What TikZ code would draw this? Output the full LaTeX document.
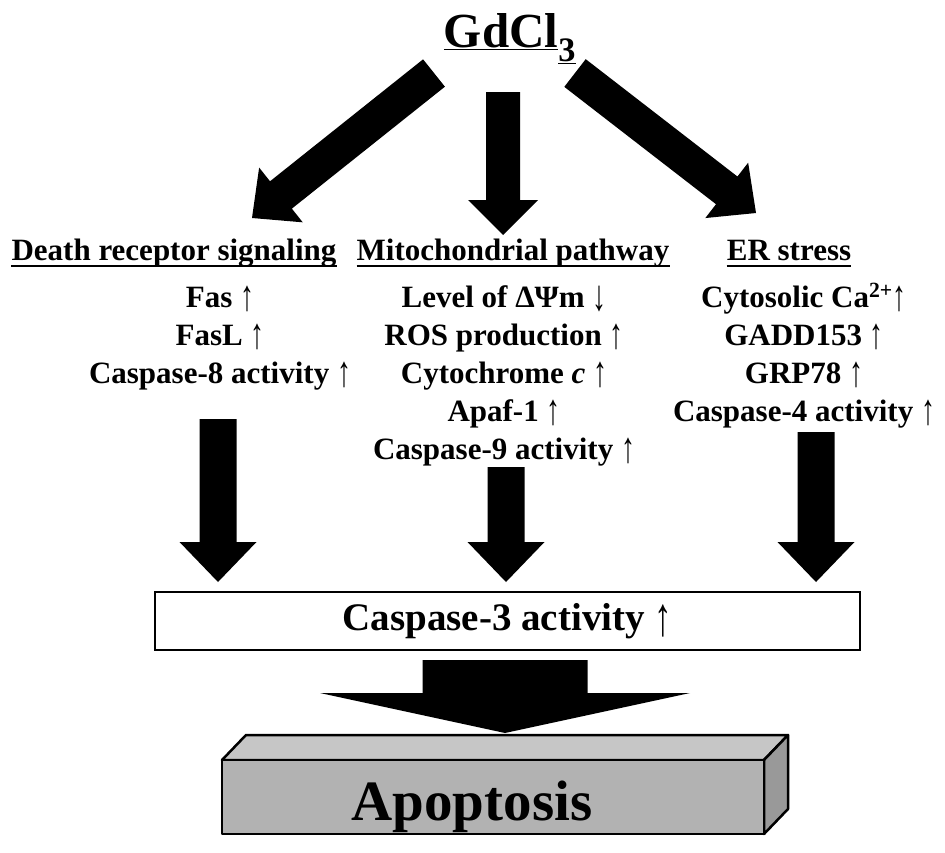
\documentclass[tikz,border=0pt]{standalone}
\usepackage{fontspec}
\setmainfont{Liberation Serif}
\usetikzlibrary{calc}
\newcommand{\upar}{\raisebox{-0.12em}{\scalebox{0.9}[1.4]{↑}}}
\newcommand{\dnar}{\raisebox{-0.12em}{\scalebox{0.9}[1.4]{↓}}}
\tikzset{
  txt/.style={font=\fontsize{31}{36}\selectfont\bfseries, inner sep=0pt, anchor=base},
  ul/.style={line width=2pt},
  fatfill/.style={fill=black},
  boxedge/.style={draw=black, line width=2.5pt, line join=round},
}
% #1 from, #2 to, #3 half shaft width, #4 half head width, #5 head length
\newcommand{\fatarrow}[5]{%
  \path ($(#2)!#5!(#1)$) coordinate (tmpB);
  \fill[fatfill] ($(#1)!#3!90:(#2)$) -- ($(tmpB)!#3!90:(#2)$) -- ($(tmpB)!#4!90:(#2)$)
     -- (#2) -- ($(tmpB)!#4!-90:(#2)$) -- ($(tmpB)!#3!-90:(#2)$) -- ($(#1)!#3!-90:(#2)$) -- cycle;
}
\begin{document}
\begin{tikzpicture}[x=1pt,y=-1pt]
\path[use as bounding box] (0,0) rectangle (945,852);

% title
\node[font=\fontsize{49}{56}\selectfont\bfseries, inner sep=0pt, anchor=base] (gd) at (510,47) {\underline{GdCl}\underline{\textsubscript{3}}};

% upper arrows
\coordinate (l1) at (434,73);  \coordinate (l2) at (252,218);
\coordinate (m1) at (503,92);  \coordinate (m2) at (503,235);
\coordinate (r1) at (575,73);  \coordinate (r2) at (756,213);
\fatarrow{l1}{l2}{17.5pt}{35pt}{37pt}
\fatarrow{m1}{m2}{17pt}{35pt}{35pt}
\fatarrow{r1}{r2}{17.5pt}{35pt}{37pt}

% headings
\node[txt] (h1) at (174,260) {Death receptor signaling};
\node[txt] (h2) at (513,260) {Mitochondrial pathway};
\node[txt] (h3) at (789,260) {ER stress};
\foreach \h in {h1,h2,h3}{
  \draw[ul] ([yshift=-6pt]\h.base west) -- ([yshift=-6pt]\h.base east);
}

% left column
\node[txt] (a1) at (220,307) {Fas \upar};
\node[txt] (a2) at (220,345) {FasL \upar};
\node[txt] (a3) at (220,383) {Caspase-8 activity \upar};

% middle column
\node[txt] (b1) at (504,307) {Level of ΔΨm \dnar};
\node[txt] (b2) at (504,345) {ROS production \upar};
\node[txt] (b3) at (504,383) {Cytochrome \textit{c} \upar};
\node[txt] (b4) at (504,421) {Apaf-1 \upar};
\node[txt] (b5) at (504,459) {Caspase-9 activity \upar};

% right column
\node[txt] (c1) at (804,307) {Cytosolic Ca\textsuperscript{2+}\upar};
\node[txt] (c2) at (804,345) {GADD153 \upar};
\node[txt] (c3) at (804,383) {GRP78 \upar};
\node[txt] (c4) at (804,421) {Caspase-4 activity \upar};

% lower arrows
\coordinate (la) at (218,419);  \coordinate (lb) at (218,582);
\coordinate (ma) at (506,467);  \coordinate (mb) at (506,582);
\coordinate (ra) at (816,432);  \coordinate (rb) at (816,582);
\fatarrow{la}{lb}{18.5pt}{38.5pt}{40pt}
\fatarrow{ma}{mb}{18.5pt}{38.5pt}{40pt}
\fatarrow{ra}{rb}{18.5pt}{38.5pt}{40pt}

% caspase-3 box
\node[draw, line width=1.8pt, fill=white, minimum width=705pt, minimum height=58pt, inner sep=0pt,
      font=\fontsize{39}{44}\selectfont\bfseries] (cas3) at (507.5,621) {Caspase-3 activity \upar};

% big arrow
\coordinate (ba) at (505,660); \coordinate (bb) at (505,733);
\fatarrow{ba}{bb}{82.5pt}{185pt}{40pt}

% apoptosis block
\filldraw[boxedge, fill=gray!45!white] (222,760) -- (246,735) -- (788,735) -- (764,760) -- cycle;
\filldraw[boxedge, fill=gray!80!white] (764,760) -- (788,735) -- (788,809) -- (764,834) -- cycle;
\filldraw[boxedge, fill=gray!60!white] (222,760) rectangle (764,834);
\node[inner sep=0pt, anchor=base, font=\fontsize{57}{64}\selectfont\bfseries] (apo) at (472,820) {Apoptosis};
\end{tikzpicture}
\end{document}
